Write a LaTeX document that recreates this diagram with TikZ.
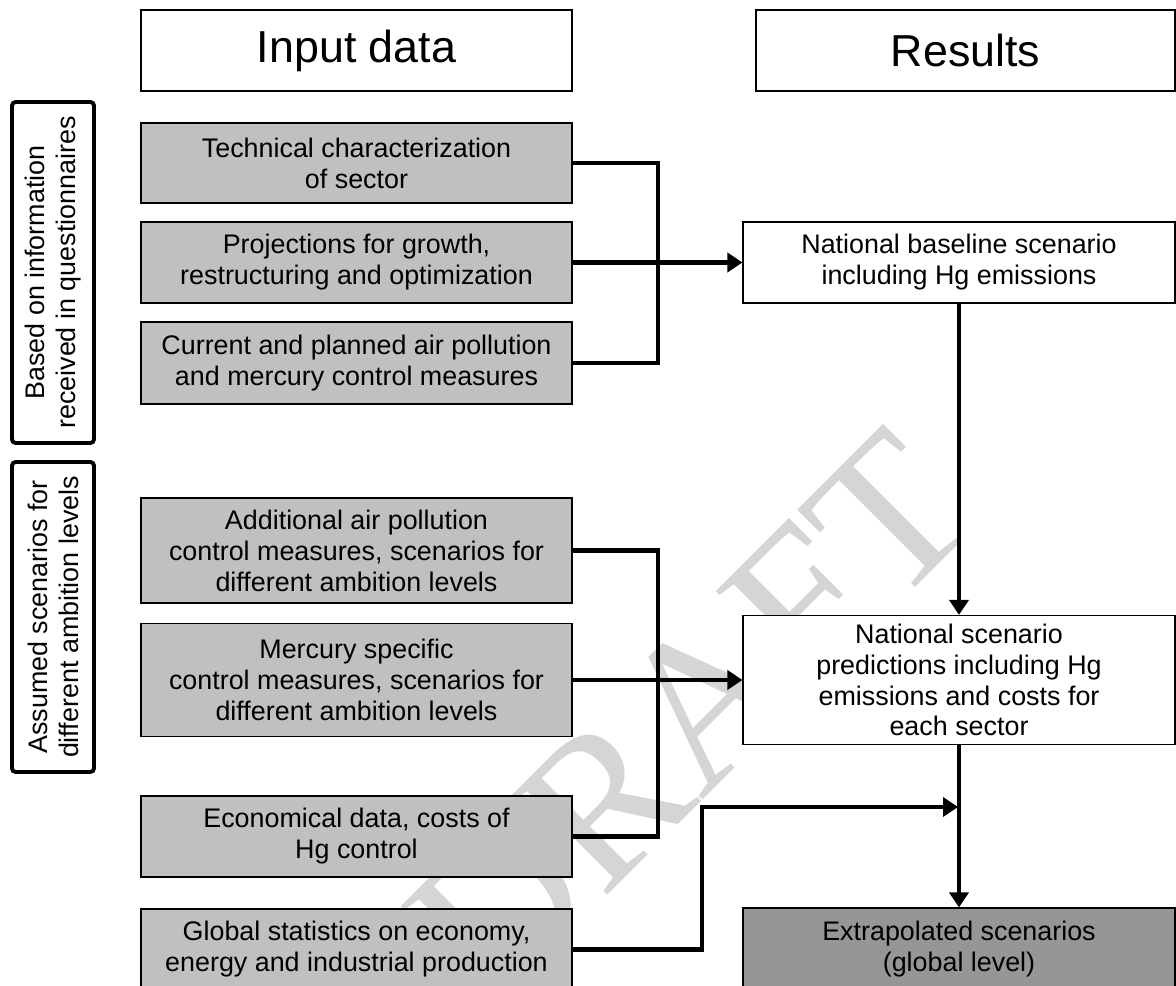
\documentclass[tikz,border=0pt]{standalone}
\usepackage{fontspec}
\setmainfont{Liberation Sans}
\newfontfamily\draftfont{Liberation Serif}
\usetikzlibrary{arrows.meta}

\definecolor{inputgray}{HTML}{C0C0C0}
\definecolor{extragray}{HTML}{969696}

\begin{document}
\begin{tikzpicture}[
    x=0.02cm, y=-0.02cm,
    font=\fontsize{15.3}{17.6}\selectfont,
    % one style per kind of box, heights are given per node
    box/.style    = {draw=black, line width=0.7pt, align=center, inner sep=2pt},
    head/.style   = {box, fill=white, font=\fontsize{25.5}{30}\selectfont, minimum height=1.62cm},
    input/.style  = {box, fill=inputgray, minimum width=8.62cm},
    result/.style = {box, fill=white, minimum width=8.64cm},
    side/.style   = {draw=black, line width=2.2pt, rounded corners=2pt, align=center,
                     rotate=90, minimum height=1.64cm},
    link/.style   = {line width=2.7pt},
    arrow/.style  = {link, -{Triangle[length=0.3cm, width=0.38cm]}},
  ]
  \useasboundingbox (0,0) rectangle (1176,986);
  \clip (0,0) rectangle (1176,986);

  %% ---------- watermark ----------
  \node[text=gray!33, rotate=45, font=\draftfont\fontsize{120}{120}\selectfont] (draft) at (690,715) {DRAFT};

  %% ---------- column heads ----------
  \node[head, minimum width=8.62cm] (inhead)  at (356.5,50.5) {Input data};
  \node[head, minimum width=8.38cm] (reshead) at (965.5,50.5) {Results};

  %% ---------- side labels ----------
  \node[side, minimum width=6.82cm] (based)   at (53,272.5) {Based on information\\received in questionnaires};
  \node[side, minimum width=6.2cm]  (assumed) at (53,617)   {Assumed scenarios for\\different ambition levels};

  %% ---------- input data ----------
  \node[input, minimum height=1.6cm]  (tech) at (356.5,163)   {Technical characterization\\of sector};
  \node[input, minimum height=1.62cm] (proj) at (356.5,262.5) {Projections for growth,\\restructuring and optimization};
  \node[input, minimum height=1.64cm] (curr) at (356.5,363)   {Current and planned air pollution\\and mercury control measures};
  \node[input, minimum height=2.1cm]  (addl) at (356.5,550.5) {Additional air pollution\\control measures, scenarios for\\different ambition levels};
  \node[input, minimum height=2.26cm] (merc) at (356.5,680)   {Mercury specific\\control measures, scenarios for\\different ambition levels};
  \node[input, minimum height=1.62cm] (econ) at (356.5,836.5) {Economical data, costs of\\Hg control};
  \node[input, minimum height=1.62cm] (glob) at (356.5,949.5) {Global statistics on economy,\\energy and industrial production};

  %% ---------- results ----------
  \node[result, minimum height=1.62cm] (base) at (959,262.5) {National baseline scenario\\including Hg emissions};
  \node[result, minimum height=2.58cm] (scen) at (959,680) {National scenario\\predictions including Hg\\emissions and costs for\\each sector};
  \node[result, fill=extragray, minimum height=1.64cm] (extr) at (959,949) {Extrapolated scenarios\\(global level)};

  %% ---------- connectors ----------
  \coordinate (j1)    at (658,262.5);
  \coordinate (j2)    at (658,680);
  \coordinate (turn)  at (702,807);
  \coordinate (merge) at (958,807);

  \draw[link]  (tech.east) -| (j1) |- (curr.east);
  \draw[arrow] (proj.east) -- (base.west);
  \draw[link]  (addl.east) -| (j2) |- (econ.east);
  \draw[arrow] (merc.east) -- (scen.west);
  \draw[arrow] (base.south) -- (scen.north);
  \draw[arrow] (scen.south) -- (extr.north);
  \draw[arrow] (glob.east) -| (turn) -- (merge);
\end{tikzpicture}
\end{document}
